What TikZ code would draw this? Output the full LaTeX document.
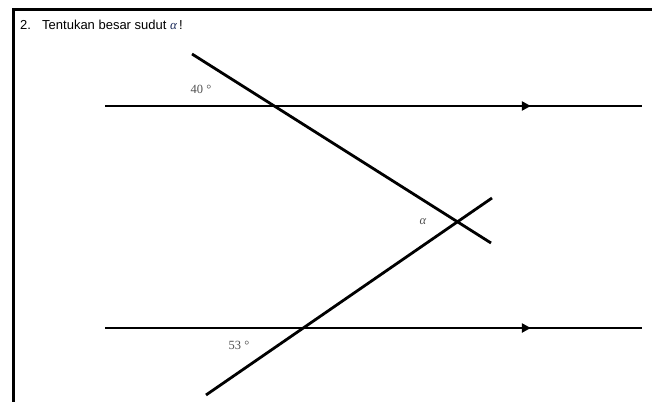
\documentclass[tikz,border=0pt]{standalone}
\usepackage{fontspec}
\setmainfont{Liberation Serif}
\newfontfamily\arialfont{Liberation Sans}
\newfontfamily\timesfont{Liberation Serif}
\usetikzlibrary{arrows.meta,decorations.markings}
\definecolor{labgray}{HTML}{505050}
\definecolor{alphacol}{HTML}{1A2A5A}
\tikzset{
  geoline/.style={line width=2.8pt},
  frameline/.style={line width=3pt},
  parline/.style={geoline, decoration={markings, mark=at position 0.793 with {\arrow{Triangle[length=9pt,width=9pt]}}}, postaction={decorate}},
  anglab/.style={text=labgray, font=\timesfont\fontsize{12.5}{14}\selectfont, inner sep=0pt},
  titletext/.style={font=\arialfont\fontsize{13}{15}\selectfont, inner sep=0pt, anchor=base west},
}
\begin{document}
\begin{tikzpicture}[x=1pt,y=-1pt]
\useasboundingbox (0,0) rectangle (652,401);
% frame
\coordinate (fbl) at (13,405);
\coordinate (ftl) at (13,10);
\coordinate (ftr) at (656,10);
\draw[frameline] (fbl) -- (ftl) -- (ftr);
% title
\node[titletext] (num) at (20,30) {2.};
\node[titletext] (title) at (42,30) {Tentukan besar sudut {\timesfont\itshape\color{alphacol}α}\,!};
% parallel lines
\coordinate (p1a) at (105,106);
\coordinate (p1b) at (642,106);
\coordinate (p2a) at (105,328);
\coordinate (p2b) at (642,328);
\draw[parline] (p1a) -- (p1b);
\draw[parline] (p2a) -- (p2b);
% transversals
\coordinate (t1a) at (192,54);
\coordinate (t1b) at (491,243);
\coordinate (t2a) at (206,395);
\coordinate (t2b) at (492,198);
\draw[geoline] (t1a) -- (t1b);
\draw[geoline] (t2a) -- (t2b);
% labels
\node[anglab] (l40) at (201,89) {40 °};
\node[anglab] (lal) at (423,222) {\itshape α};
\node[anglab] (l53) at (239,345) {53 °};
\end{tikzpicture}
\end{document}
